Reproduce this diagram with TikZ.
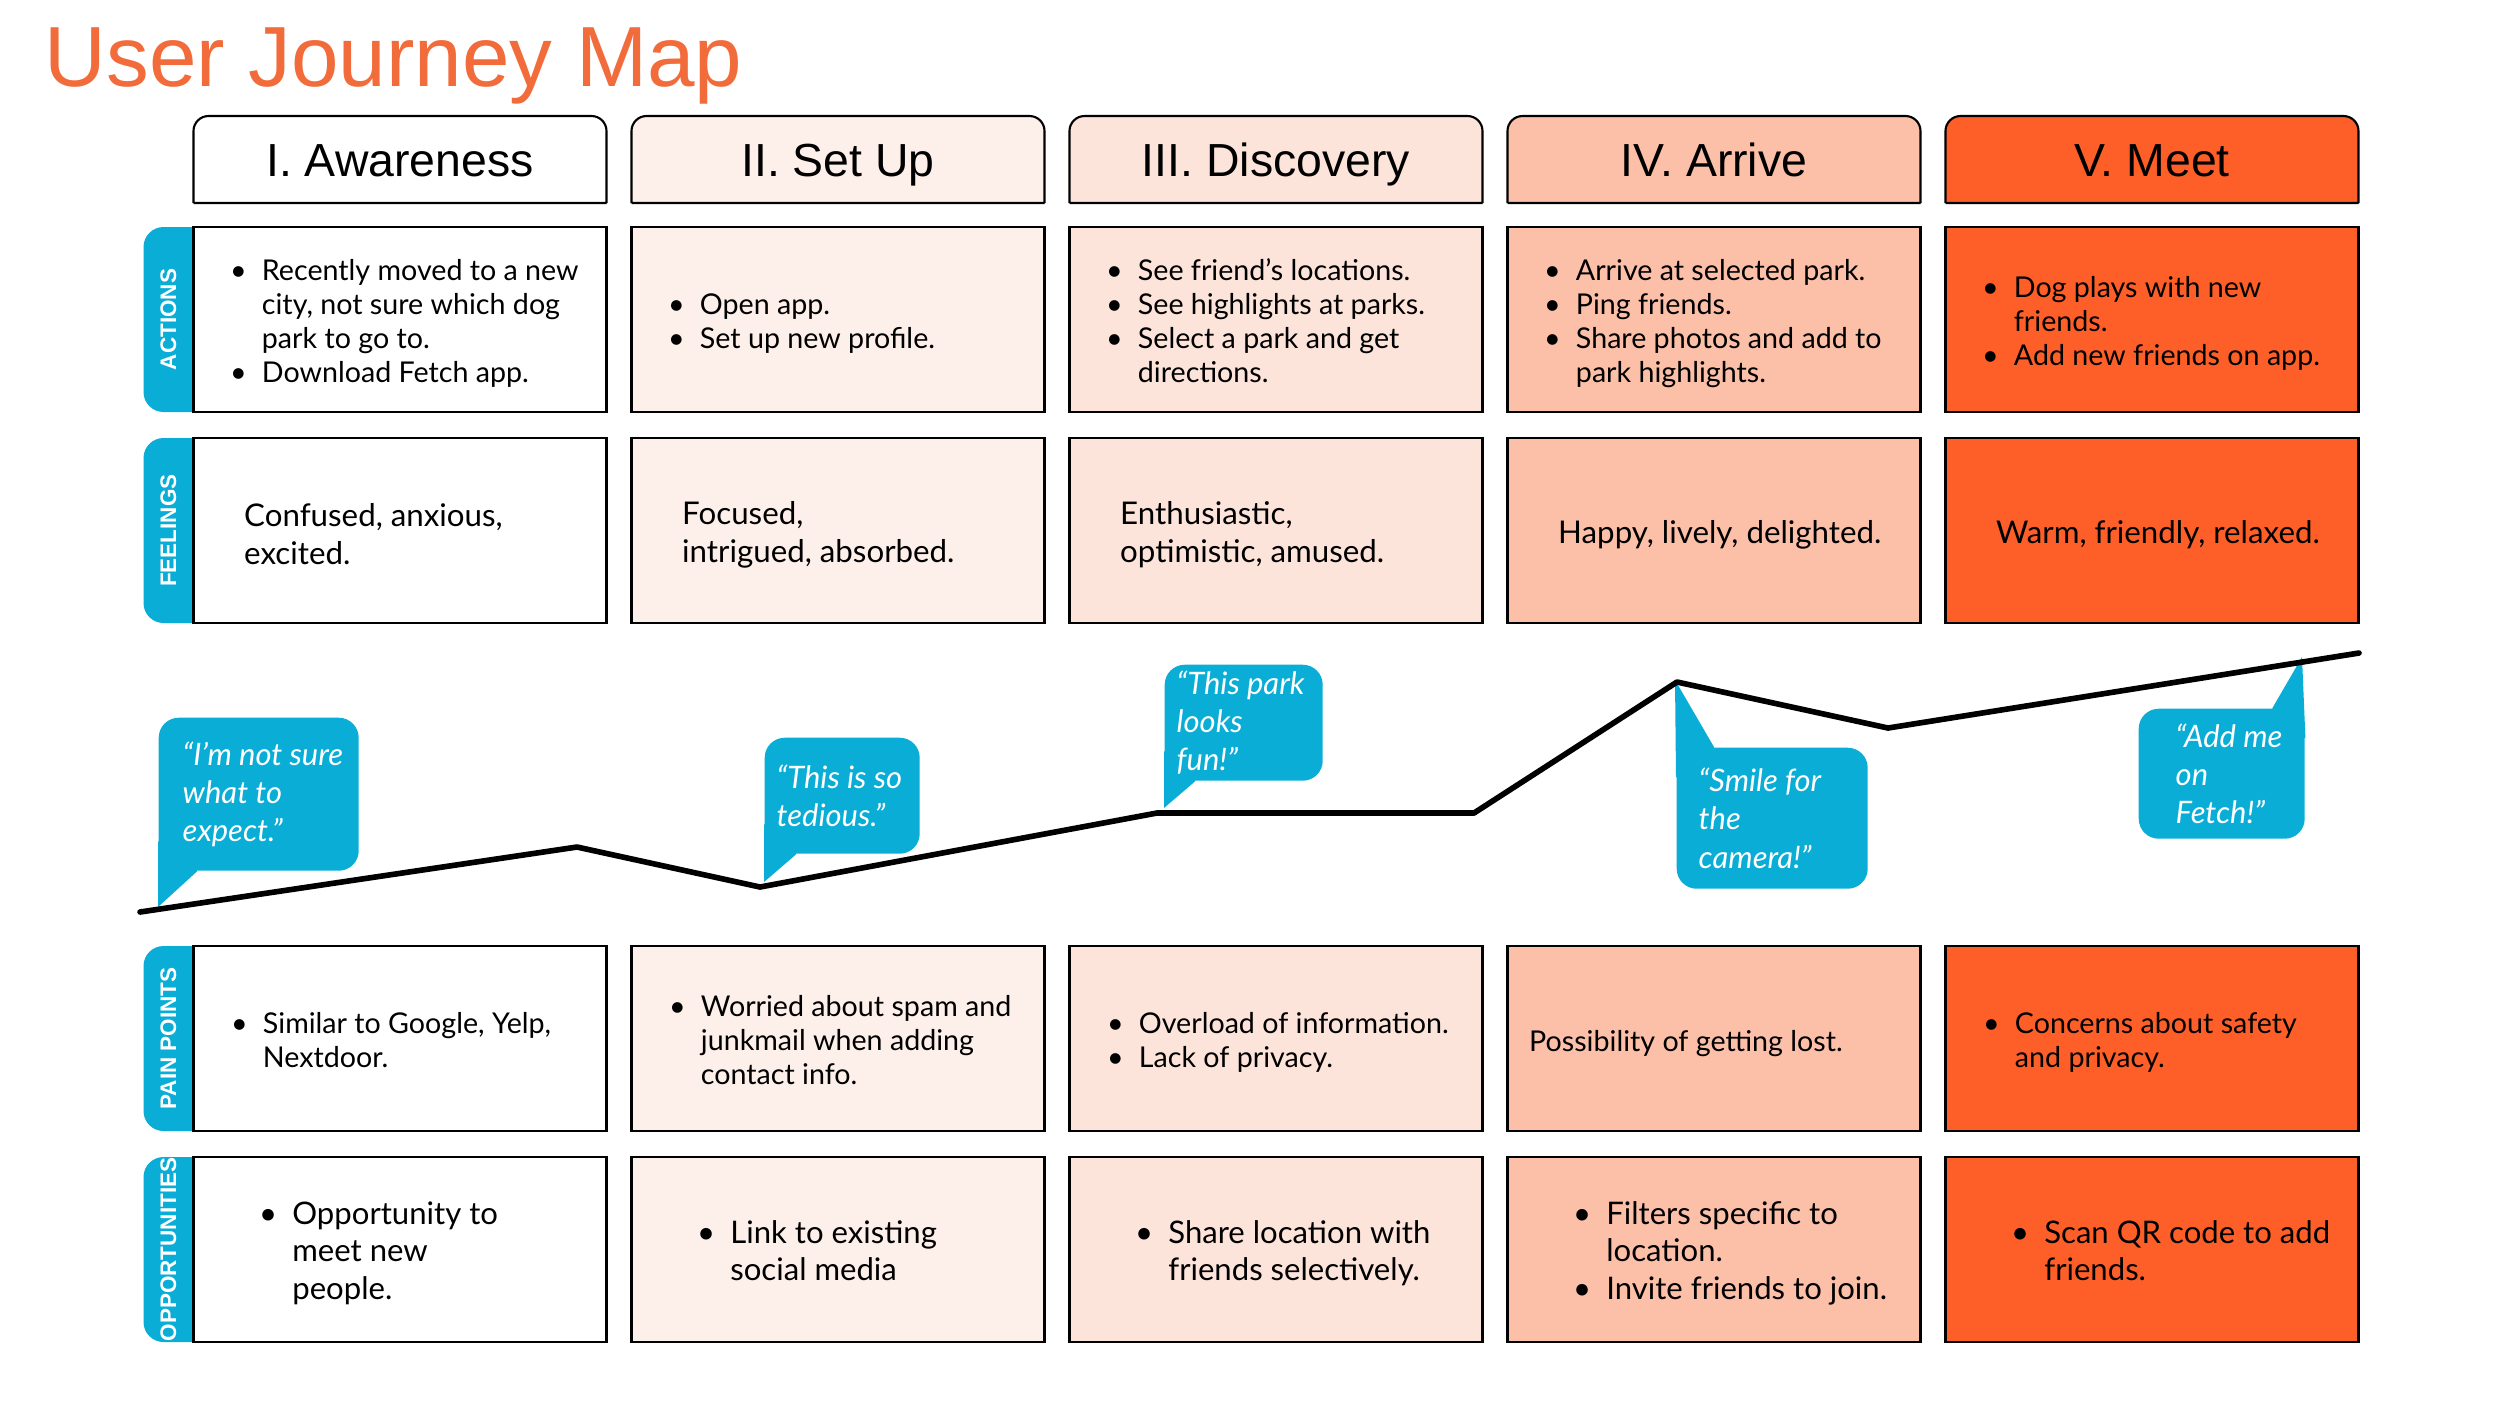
\documentclass[tikz,border=0pt]{standalone}
\usepackage{fontspec}
\setmainfont{Lato}
\newfontfamily\headfont{Liberation Sans}
\usepackage{tikz}
\usetikzlibrary{positioning,backgrounds}

\definecolor{titleorange}{HTML}{F26B3A}
\definecolor{stageA}{HTML}{FFFFFF}
\definecolor{stageB}{HTML}{FDEFEA}
\definecolor{stageC}{HTML}{FCE4DA}
\definecolor{stageD}{HTML}{FCBFA8}
\definecolor{stageE}{HTML}{FE5F28}
\definecolor{fetchblue}{HTML}{09ADD5}

\newcommand{\blist}[1]{\begin{tabular}{@{}l@{\hspace{4.3pt}}l@{}}#1\end{tabular}}
\newcommand{\bul}{\textbullet &}

\begin{document}
\begin{tikzpicture}[x=0.1mm,y=-0.1mm,
    stage/.style={minimum width=41.3mm,minimum height=8.7mm,inner sep=0pt,outer sep=0pt,text height=9.5pt,text depth=0pt,font=\headfont\fontsize{13.2}{15}\selectfont},
    stageframe/.style={line width=0.6pt,rounded corners=1.5mm},
    cell/.style={draw,line width=0.6pt,minimum width=41.3mm,minimum height=18.5mm,inner sep=0pt,outer sep=0pt},
    celltext/.style={inner sep=0pt,yshift=-0.5mm,font=\fontsize{8.15}{9.7}\selectfont},
    feeltext/.style={inner sep=0pt,yshift=-0.4mm,align=left,font=\fontsize{8.9}{10.8}\selectfont},
    opptext/.style={inner sep=0pt,yshift=-0.5mm,font=\fontsize{8.85}{10.6}\selectfont},
    tab/.style={fill=fetchblue,rounded corners=2mm},
    tablabel/.style={rotate=90,inner sep=0pt,text=white,font=\headfont\bfseries\fontsize{6.4}{7}\selectfont},
    say/.style={fill=fetchblue,rounded corners=2mm,inner sep=0pt,anchor=north west},
    saytext/.style={inner sep=0pt,align=left,text=white,font=\itshape\fontsize{8.8}{10.9}\selectfont},
    journey/.style={line width=1.6pt,line join=round,line cap=round}]
  \useasboundingbox (0,0) rectangle (2500,1406);

  \node[anchor=base west,inner sep=0pt,text=titleorange,font=\headfont\fontsize{24.3}{28}\selectfont] (title) at (44,86) {User Journey Map};

  % stages
  \node[stage] (head1) at (400,159.5) {I. Awareness};
  \node[stage] (head2) [right=2.5mm of head1] {II. Set Up};
  \node[stage] (head3) [right=2.5mm of head2] {III. Discovery};
  \node[stage] (head4) [right=2.5mm of head3] {IV. Arrive};
  \node[stage] (head5) [right=2.5mm of head4] {V. Meet};

  % actions
  \node[cell,fill=stageA] (act1) at (400,319.5) {};
  \node[cell,fill=stageB] (act2) [right=2.5mm of act1] {};
  \node[cell,fill=stageC] (act3) [right=2.5mm of act2] {};
  \node[cell,fill=stageD] (act4) [right=2.5mm of act3] {};
  \node[cell,fill=stageE] (act5) [right=2.5mm of act4] {};
  \node[celltext,right=3.6mm of act1.west] (act1t) {\blist{\bul Recently moved to a new\\ & city, not sure which dog\\ & park to go to.\\ \bul Download Fetch app.}};
  \node[celltext,right=3.6mm of act2.west] (act2t) {\blist{\bul Open app.\\ \bul Set up new profile.}};
  \node[celltext,right=3.6mm of act3.west] (act3t) {\blist{\bul See friend’s locations.\\ \bul See highlights at parks.\\ \bul Select a park and get\\ & directions.}};
  \node[celltext,right=3.6mm of act4.west] (act4t) {\blist{\bul Arrive at selected park.\\ \bul Ping friends.\\ \bul Share photos and add to\\ & park highlights.}};
  \node[celltext,right=3.6mm of act5.west] (act5t) {\blist{\bul Dog plays with new\\ & friends.\\ \bul Add new friends on app.}};

  % feelings
  \node[cell,fill=stageA] (feel1) at (400,530.5) {};
  \node[cell,fill=stageB] (feel2) [right=2.5mm of feel1] {};
  \node[cell,fill=stageC] (feel3) [right=2.5mm of feel2] {};
  \node[cell,fill=stageD] (feel4) [right=2.5mm of feel3] {};
  \node[cell,fill=stageE] (feel5) [right=2.5mm of feel4] {};
  \node[feeltext,right=5mm of feel1.west] (feel1t) {Confused, anxious,\\excited.};
  \node[feeltext,right=5mm of feel2.west] (feel2t) {Focused,\\intrigued, absorbed.};
  \node[feeltext,right=5mm of feel3.west] (feel3t) {Enthusiastic,\\optimistic, amused.};
  \node[feeltext,right=5mm of feel4.west] (feel4t) {Happy, lively, delighted.};
  \node[feeltext,right=5mm of feel5.west] (feel5t) {Warm, friendly, relaxed.};

  % pain points
  \node[cell,fill=stageA] (pain1) at (400,1038.5) {};
  \node[cell,fill=stageB] (pain2) [right=2.5mm of pain1] {};
  \node[cell,fill=stageC] (pain3) [right=2.5mm of pain2] {};
  \node[cell,fill=stageD] (pain4) [right=2.5mm of pain3] {};
  \node[cell,fill=stageE] (pain5) [right=2.5mm of pain4] {};
  \node[celltext,right=3.7mm of pain1.west] (pain1t) {\blist{\bul Similar to Google, Yelp,\\ & Nextdoor.}};
  \node[celltext,right=3.7mm of pain2.west] (pain2t) {\blist{\bul Worried about spam and\\ & junkmail when adding\\ & contact info.}};
  \node[celltext,right=3.7mm of pain3.west] (pain3t) {\blist{\bul Overload of information.\\ \bul Lack of privacy.}};
  \node[celltext,right=2.1mm of pain4.west] (pain4t) {Possibility of getting lost.};
  \node[celltext,right=3.7mm of pain5.west] (pain5t) {\blist{\bul Concerns about safety\\ & and privacy.}};

  % opportunities
  \node[cell,fill=stageA] (opp1) at (400,1249.5) {};
  \node[cell,fill=stageB] (opp2) [right=2.5mm of opp1] {};
  \node[cell,fill=stageC] (opp3) [right=2.5mm of opp2] {};
  \node[cell,fill=stageD] (opp4) [right=2.5mm of opp3] {};
  \node[cell,fill=stageE] (opp5) [right=2.5mm of opp4] {};
  \node[opptext,right=6.5mm of opp1.west] (opp1t) {\blist{\bul Opportunity to\\ & meet new\\ & people.}};
  \node[opptext,right=6.5mm of opp2.west] (opp2t) {\blist{\bul Link to existing\\ & social media}};
  \node[opptext,right=6.5mm of opp3.west] (opp3t) {\blist{\bul Share location with\\ & friends selectively.}};
  \node[opptext,right=6.5mm of opp4.west] (opp4t) {\blist{\bul Filters specific to\\ & location.\\ \bul Invite friends to join.}};
  \node[opptext,right=6.5mm of opp5.west] (opp5t) {\blist{\bul Scan QR code to add\\ & friends.}};

  \begin{scope}[on background layer]
    \filldraw[stageframe,fill=stageA] (head1.south west) -- (head1.north west) -- (head1.north east) -- (head1.south east) (head1.south west) -- (head1.south east);
    \filldraw[stageframe,fill=stageB] (head2.south west) -- (head2.north west) -- (head2.north east) -- (head2.south east) (head2.south west) -- (head2.south east);
    \filldraw[stageframe,fill=stageC] (head3.south west) -- (head3.north west) -- (head3.north east) -- (head3.south east) (head3.south west) -- (head3.south east);
    \filldraw[stageframe,fill=stageD] (head4.south west) -- (head4.north west) -- (head4.north east) -- (head4.south east) (head4.south west) -- (head4.south east);
    \filldraw[stageframe,fill=stageE] (head5.south west) -- (head5.north west) -- (head5.north east) -- (head5.south east) (head5.south west) -- (head5.south east);
    \fill[tab] (act1.south west) -- ++(-50,0) -- ++(0,-185) -- (act1.north west);
    \fill[tab] (feel1.south west) -- ++(-50,0) -- ++(0,-185) -- (feel1.north west);
    \fill[tab] (pain1.south west) -- ++(-50,0) -- ++(0,-185) -- (pain1.north west);
    \fill[tab] (opp1.south west) -- ++(-50,0) -- ++(0,-185) -- (opp1.north west);
  \end{scope}
  \node[tablabel] (lblact) at ([xshift=-2.5mm]act1.west) {ACTIONS};
  \node[tablabel] (lblfeel) at ([xshift=-2.5mm]feel1.west) {FEELINGS};
  \node[tablabel] (lblpain) at ([xshift=-2.5mm]pain1.west) {PAIN POINTS};
  \node[tablabel] (lblopp) at ([xshift=-2.5mm]opp1.west) {OPPORTUNITIES};

  % journey
  \coordinate (j0) at (140,912);
  \coordinate (j1) at (577,847);
  \coordinate (j2) at (760,887);
  \coordinate (j3) at (1157,813);
  \coordinate (j4) at (1474,813);
  \coordinate (j5) at (1677,682);
  \coordinate (j6) at (1888,728);
  \coordinate (j7) at (2359,653);
  \coordinate (tip1) at (158,907);
  \coordinate (tip2) at (764,882);
  \coordinate (tip3) at (1164,808);
  \coordinate (tip4) at (1675,680);
  \coordinate (tip5) at (2302,657);

  \node[say,minimum width=20mm,minimum height=15.3mm] (say1) at (158,717) {};
  \node[say,minimum width=15.5mm,minimum height=11.6mm] (say2) at (764,737) {};
  \node[say,minimum width=15.8mm,minimum height=11.6mm] (say3) at (1164,664) {};
  \node[say,minimum width=19.1mm,minimum height=14.1mm] (say4) at (1676,747) {};
  \node[say,minimum width=16.6mm,minimum height=13mm] (say5) at (2138,708) {};
  \fill[fetchblue] (tip1) -- ([yshift=3mm]say1.south west) -- ([xshift=3.9mm,yshift=3mm]say1.south west) -- ([xshift=3.9mm]say1.south west) -- cycle;
  \fill[fetchblue] (tip2) -- ([yshift=3mm]say2.south west) -- ([xshift=3.2mm,yshift=3mm]say2.south west) -- ([xshift=3.2mm]say2.south west) -- cycle;
  \fill[fetchblue] (tip3) -- ([yshift=3mm]say3.south west) -- ([xshift=3.1mm,yshift=3mm]say3.south west) -- ([xshift=3.1mm]say3.south west) -- cycle;
  \fill[fetchblue] (tip4) -- ([yshift=-3mm]say4.north west) -- ([xshift=3.8mm,yshift=-3mm]say4.north west) -- ([xshift=3.8mm]say4.north west) -- cycle;
  \fill[fetchblue] (tip5) -- ([yshift=-3mm]say5.north east) -- ([xshift=-3.3mm,yshift=-3mm]say5.north east) -- ([xshift=-3.3mm]say5.north east) -- cycle;
  \node[saytext,right=2.4mm of say1.west] (say1t) {“I’m not sure\\what to\\expect.”};
  \node[saytext,right=1.2mm of say2.west] (say2t) {“This is so\\tedious.”};
  \node[saytext,right=1.2mm of say3.west] (say3t) {“This park\\looks\\fun!”};
  \node[saytext,right=2.2mm of say4.west] (say4t) {“Smile for\\the\\camera!”};
  \node[saytext,right=3.7mm of say5.west] (say5t) {“Add me\\on\\Fetch!”};

  \draw[journey] (j0) -- (j1) -- (j2) -- (j3) -- (j4) -- (j5) -- (j6) -- (j7);
\end{tikzpicture}
\end{document}
